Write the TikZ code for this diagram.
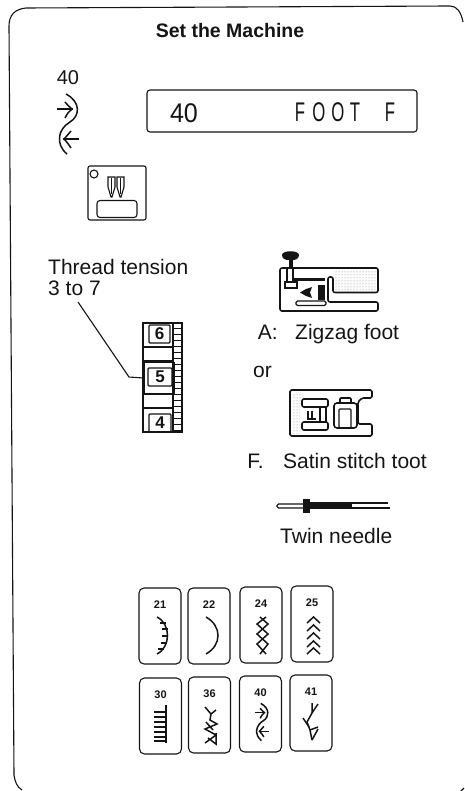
\documentclass[tikz,border=0pt]{standalone}
\usepackage{fontspec}
\setmainfont{Liberation Sans}
\usetikzlibrary{arrows.meta,positioning,calc,patterns}
\definecolor{PageInk}{HTML}{141414}
% stitch 40, drawn round its own middle
\newcommand{\stitchforty}[3]{%
  \begin{scope}[shift={(#1,#2)}, scale=#3]
    \draw[motif] (-2,-30) .. controls (13,-22) and (12,-8) .. (2,-2)
      .. controls (-10,5) and (-13,20) .. (-1,30);
    \draw[motif] (-11,-15) -- (5,-15);
    \draw[motif] (-3,-22) .. controls (-1,-20) and (1,-17) .. (4,-15)
      .. controls (1,-13) and (-1,-10) .. (-3,-6);
    \draw[motif] (11,15) -- (-5,15);
    \draw[motif] (3,7) .. controls (1,9) and (-1,12) .. (-4,15)
      .. controls (-1,18) and (1,21) .. (3,24);
  \end{scope}}
\begin{document}
\begin{tikzpicture}[
    x=1pt, y=-1pt,
    ink/.style={draw=PageInk, line width=1.1pt},
    motif/.style={draw=PageInk, line width=1.5pt},
    heavy/.style={draw=PageInk, line width=2.4pt},
    speck/.style={pattern=dots, pattern color=PageInk!55},
    label/.style={font=\fontsize{21}{21}\selectfont, text=PageInk, inner sep=0pt, anchor=base west},
    display/.style={font=\fontsize{27}{27}\selectfont, text=PageInk, inner sep=0pt, xscale=.62, transform shape},
    card/.style={ink, rounded corners=5pt, minimum width=42pt, minimum height=76pt, inner sep=0pt},
    cardnum/.style={font=\bfseries\fontsize{11}{11}\selectfont, text=PageInk, inner sep=0pt},
    dial/.style={ink, rounded corners=1pt, minimum width=22pt, minimum height=18pt, inner sep=0pt,
      font=\bfseries\fontsize{17}{17}\selectfont, text=PageInk}
  ]
  \useasboundingbox (0,0) rectangle (464,791);

  % frame
  \draw[ink] (22,790) .. controls (17,787) and (15,782) .. (14,775) -- (9,26)
    .. controls (9,15) and (15,9) .. (26,8) -- (450,6) .. controls (457,6) and (461,12) .. (463,22);
  \draw[ink] (461,791) -- (464,788);
  \node[label, anchor=base, font=\bfseries\fontsize{19.5}{20}\selectfont] (title) at (230,38) {Set the Machine};

  % top row
  \node[label, anchor=base, font=\fontsize{20}{20}\selectfont] (num) at (68,85) {40};
  \stitchforty{68}{124}{1}
  \node[ink, rounded corners=3pt, minimum width=270pt, minimum height=42pt, inner sep=0pt] (lcd) at (282,111) {};
  \node[display, xscale=1.5] (lcdnum) at (184,113) {40};
  \foreach \nm/\xc/\ch in {l1/300/F, l2/319/O, l3/338/O, l4/355/T, l5/390/F}
    \node[display] (\nm) at (\xc,112) {\ch};

  % needle plate
  \node[ink, rounded corners=2pt, minimum width=58pt, minimum height=54pt, inner sep=0pt] (plate) at (117,193) {};
  \node[ink, rounded corners=3pt, minimum width=40pt, minimum height=17pt, inner sep=0pt] (slot) at (117,209) {};
  \node[ink, circle, minimum size=8pt, inner sep=0pt] (hole) at (94,174) {};
  \draw[ink, fill=white] (108,177) -- (115,177) -- (115,187) -- (112,197) -- (111,197) -- (108,187) -- cycle;
  \draw[ink, fill=white] (117,177) -- (124,177) -- (124,187) -- (121,197) -- (120,197) -- (117,187) -- cycle;
  \draw[heavy, line width=1.6pt] (111.500,178) -- (111.500,194) (120.500,178) -- (120.500,194);

  % tension dial
  \node[label] (tension) at (48,274) {Thread tension};
  \node[label] (tensionb) at (48,295) {3 to 7};
  \node[ink, minimum width=39pt, minimum height=109pt, inner sep=0pt] (strip) at (162.500,377.500) {};
  \draw[ink] (173,323) -- (173,432);
  \foreach \yy in {328,334,340,346,352,358,364,370,376,382,388,394,400,406,412,418,424,430}
    \draw[ink, line width=.8pt] (173,\yy) -- (182,\yy);
  \node[dial, minimum height=18pt, minimum width=21pt] (d6) at (159.500,334) {6};
  \node[ink, minimum width=30pt, minimum height=31pt, inner sep=0pt] (frame5) at (159,378) {};
  \node[dial, minimum width=24pt] (d5) at (160,377) {5};
  \node[dial, minimum height=18pt] (d4) at (160,423) {4};
  \draw[ink] (143,347) -- (173,347) (143,361) -- (173,361) (143,394) -- (173,394) (143,408) -- (173,408);
  \coordinate (leadtop) at (78,302);
  \coordinate (leadbend) at (129,377);
  \draw[ink] (leadtop) -- (leadbend) -- (frame5.west);

  % foot A
  \fill[PageInk] (282,255) .. controls (282,250) and (299,250) .. (299,255)
    .. controls (299,259) and (295,260) .. (293,260) -- (288,260) .. controls (286,260) and (282,259) .. (282,255) -- cycle;
  \draw[heavy, line width=4pt] (290.500,259) -- (290.500,268);
  \fill[speck] (334,270) rectangle (376,291);
  \draw[heavy, line width=1.6pt, rounded corners=2pt, line join=round] (378,268) -- (378,292.500) -- (333,292.500) -- (333,277)
    -- (328,277) -- (328,302) -- (378,302) -- (378,311) -- (280,311) -- (280,268) -- cycle;
  \draw[ink, fill=white] (287,268) rectangle (293,282);
  \draw[ink, fill=white] (285,282) rectangle (297,288);
  \draw[heavy, line width=3pt] (294,279) -- (325,279);
  \fill[PageInk] (318,285) rectangle (325,300);
  \fill[PageInk] (300,292.500) -- (306,289) -- (312,287) -- (310,292.500) -- (312,298) -- (306,296) -- cycle;
  \draw[ink, line width=1.4pt, rounded corners=1.500pt] (296,301) rectangle (326,305.500);

  % foot F
  \fill[speck] (293,393) rectangle (300,433);
  \draw[heavy, line width=1.6pt, rounded corners=1.500pt, line join=round] (290,390) -- (372,390) -- (372,398) -- (362,398) -- (358,402)
    -- (358,424) -- (372,424) -- (372,436) -- (290,436) -- cycle;
  \draw[heavy, line width=1.6pt, rounded corners=2pt] (302,399) rectangle (328,407);
  \draw[heavy, line width=1.6pt, rounded corners=2pt] (302,422) rectangle (328,430);
  \draw[heavy, line width=1.6pt] (320,407) -- (320,422) (326,407) -- (326,422);
  \draw[ink] (308,411) -- (308,419) -- (316,419) (312,411) -- (312,419);
  \draw[heavy, line width=1.6pt, rounded corners=3pt] (334,403) rectangle (357,428);
  \draw[ink, rounded corners=1pt] (339,409) rectangle (351,428);
  \draw[heavy, line width=1.6pt, rounded corners=1pt] (340,398) rectangle (351,403);

  % twin needle
  \draw[ink, rounded corners=1.500pt] (303,504) -- (277,504) -- (277,508) -- (303,508);
  \fill[PageInk] (303,499) rectangle (310,513);
  \draw[heavy, line width=1.8pt] (310,503) -- (388,503);
  \draw[heavy, line width=1.8pt] (310,508) -- (390,508);
  \fill[PageInk] (310,503) rectangle (352,508);

  % captions
  \node[label, anchor=base east] (capa) at (278,339) {A:};
  \node[label] (zigzag) at (295,339) {Zigzag foot};
  \node[label, anchor=base east] (oror) at (272,377) {or};
  \node[label, anchor=base east] (capf) at (264,468) {F.};
  \node[label] (satin) at (283,468) {Satin stitch toot};
  \node[label] (twin) at (280,543) {Twin needle};

  % cards
  \foreach \nm/\xc/\yc/\val in {c21/160/626/21, c22/209/626/22, c24/261/625/24, c25/312/624/25,
                                c30/160.500/716/30, c36/209.500/715/36, c40/260.500/714/40, c41/311/713/41} {
    \node[card] (\nm) at (\xc,\yc) {};
    \node[cardnum] (n\nm) at ($(\nm.north)+(0,17)$) {\val};
  }

  % stitches, top row
  \draw[motif] (157,617) .. controls (171,624) and (171,647) .. (157,654);
  \foreach \ya/\xa in {623/166,629/167.500,636/168,643/167,649/164}
    \draw[ink] (\xa-6,\ya) -- (\xa,\ya);
  \draw[motif] (206,617) .. controls (222,626) and (222,645) .. (206,654);
  \draw[motif] (260,617) -- (268,624) -- (257,634) -- (268,644) -- (260,654);
  \draw[motif] (266,617) -- (257,624) -- (268,634) -- (257,644) -- (266,654);
  \foreach \yy in {623,631,639,647,654}
    \draw[motif] (307,\yy) -- (313.500,\yy-6) -- (320,\yy);

  % stitches, bottom row
  \draw[motif] (166,705) -- (166,743);
  \foreach \yy in {712,717,722,727,732,737,741}
    \draw[ink] (154,\yy) -- (166,\yy);
  \draw[motif] (205,707) -- (211,714) -- (216,710) (211,714) -- (210,720) -- (217,724) -- (205,729)
    -- (216,735) -- (205,743) (206,722) -- (213,730) (216,733) -- (216,744) -- (208,738);
  \stitchforty{262}{722}{.62}
  \draw[motif] (312,703) -- (312,713) -- (307,722) -- (310,730) -- (312,740);
  \draw[motif] (312,713) -- (318,704) (303,718) -- (309,727) (310,730) -- (318,727) (312,740) -- (318,729);
\end{tikzpicture}
\end{document}
